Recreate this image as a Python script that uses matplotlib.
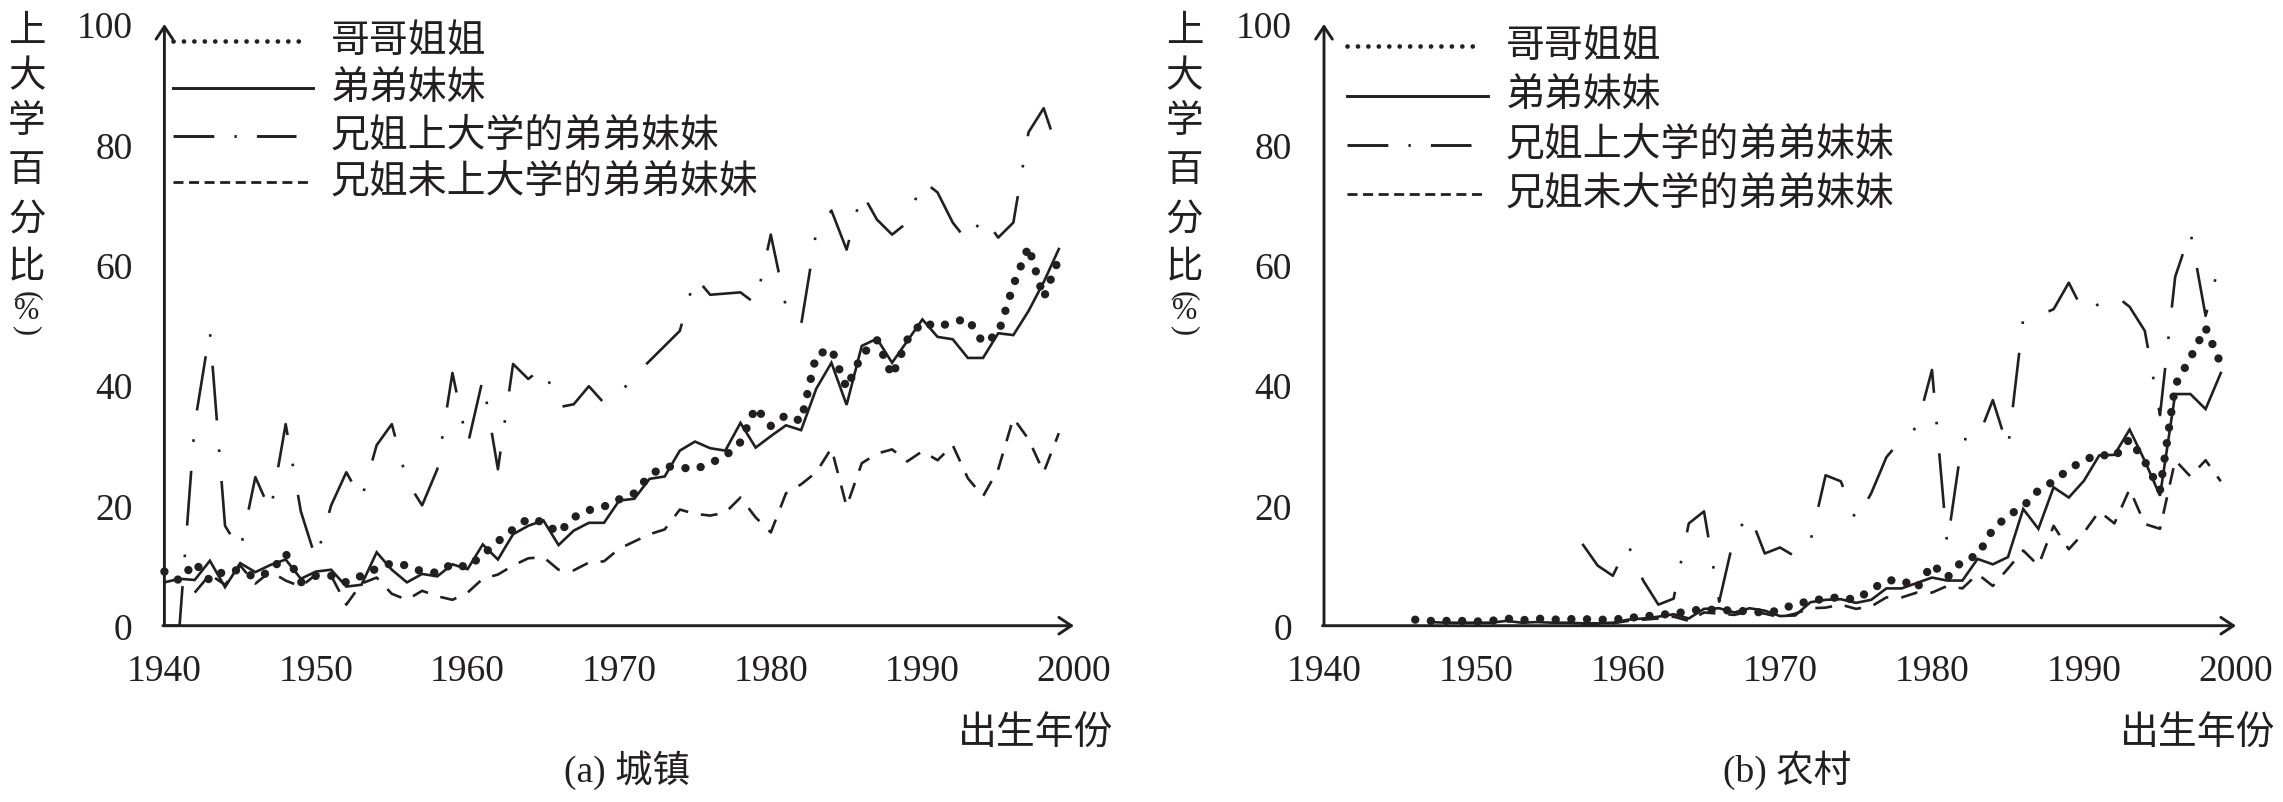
import matplotlib
matplotlib.use("Agg")
import matplotlib.pyplot as plt

plt.rcParams['font.family'] = ['Liberation Serif', 'Noto Sans CJK SC']
CJK = ['Noto Sans CJK SC', 'DejaVu Sans']
INK = '#231f20'
W, H, DPI = 2283, 803, 100

# ---------------- data: (a) urban ----------------
urban_elder_years = list(range(1940, 2000))
urban_elder = [9.0, 7.5, 10.5, 7.5, 9.2, 9.2, 8.0, 9.0, 12.0, 7.2,
               8.3, 8.3, 7.2, 8.3, 9.5, 10.4, 10.0, 9.0, 8.8, 10.3,
               9.7, 11.8, 14.0, 16.0, 17.8, 17.2, 15.4, 18.0, 19.2, 19.8,
               21.0, 22.0, 25.0, 26.5, 26.3, 26.0, 27.0, 28.2, 30.5, 36.3,
               33.2, 35.0, 34.0, 45.0, 46.0, 39.5, 45.0, 47.5, 41.5, 47.5,
               50.5, 49.6, 50.5, 51.0, 47.0, 48.5, 56.6, 63.0, 54.5, 61.0]
urban_younger_years = list(range(1940, 2000))
urban_younger = [7.2, 7.8, 7.6, 10.8, 6.4, 10.4, 8.9, 10.1, 11.0, 7.8,
                 9.0, 9.3, 6.5, 6.8, 12.2, 9.3, 7.2, 8.6, 8.2, 10.2,
                 9.4, 13.5, 11.0, 15.2, 16.6, 17.5, 13.4, 15.8, 17.1, 17.1,
                 20.8, 21.1, 24.4, 24.8, 29.1, 30.6, 29.5, 29.1, 33.7, 29.6,
                 31.5, 33.3, 32.5, 39.4, 43.7, 36.7, 46.5, 47.7, 43.7, 47.3,
                 50.9, 48.0, 47.6, 44.5, 44.5, 48.6, 48.3, 52.3, 57.1, 62.6]
urban_coll_years = list(range(1940, 2000))
urban_coll = [0.0, 0.0, 33.5, 49.0, 16.6, 12.5, 24.7, 19.0, 33.5, 19.0,
              11.0, 20.0, 25.5, 21.0, 30.0, 33.5, 24.0, 20.0, 26.0, 42.0,
              30.0, 41.0, 26.0, 43.5, 41.0, 43.0, 36.3, 36.8, 39.8, 37.0,
              38.5, 41.5, 44.0, 46.5, 49.0, 58.0, 55.0, 55.2, 55.4, 53.5,
              65.0, 53.0, 50.0, 65.5, 69.0, 62.5, 72.0, 67.5, 65.0, 67.0,
              74.0, 72.0, 67.0, 63.8, 68.0, 64.5, 67.0, 82.0, 86.0, 78.5]
urban_nocoll_years = list(range(1942, 2000))
urban_nocoll = [5.5, 8.5, 6.8, 10.0, 7.0, 9.0, 7.5, 6.5,
                8.5, 8.3, 3.5, 7.0, 8.0, 5.3, 4.3, 5.8, 4.9, 4.3,
                5.5, 7.8, 8.5, 10.0, 11.2, 11.4, 9.3, 9.2, 10.5, 10.7,
                12.8, 14.0, 15.2, 16.0, 19.3, 18.6, 18.3, 18.8, 21.3, 18.0,
                15.5, 22.0, 23.5, 25.5, 29.5, 19.8, 27.0, 28.6, 29.3, 27.3,
                29.0, 27.5, 30.0, 24.5, 21.5, 26.0, 34.5, 31.0, 25.5, 32.0]

# ---------------- data: (b) rural ----------------
rural_elder_years = list(range(1946, 2000))
rural_elder = [1.0, 0.8, 0.8, 0.8,
               0.7, 0.8, 1.2, 0.9, 1.2, 1.0, 1.1, 1.1, 1.0, 1.0,
               1.3, 1.5, 1.8, 2.0, 2.4, 2.8, 2.5, 2.6, 2.3, 2.2,
               2.5, 3.7, 4.0, 4.6, 4.7, 4.3, 6.0, 7.5, 7.6, 6.2,
               10.2, 8.0, 10.8, 11.7, 16.0, 18.3, 19.8, 22.5, 24.0, 26.0,
               27.5, 28.5, 28.0, 31.0, 27.3, 22.5, 40.0, 44.5, 49.5, 43.5]
rural_younger_years = list(range(1947, 2000))
rural_younger = [0.6, 0.5, 0.5,
                 0.5, 0.5, 0.8, 0.5, 0.6, 0.5, 0.5, 0.4, 0.4, 0.5,
                 1.0, 1.2, 1.5, 1.9, 1.2, 2.8, 2.9, 2.2, 2.9, 2.5,
                 1.6, 1.7, 3.9, 4.3, 4.4, 3.8, 4.3, 6.2, 6.2, 7.1,
                 8.0, 7.5, 7.5, 11.1, 10.2, 11.4, 19.4, 16.1, 23.0, 21.3,
                 24.1, 28.3, 28.4, 32.6, 27.4, 21.6, 38.5, 38.5, 36.0, 42.0]
rural_coll_years = list(range(1957, 2000))
rural_coll = [13.6, 10.0, 8.3,
              13.5, 7.5, 3.5, 4.5, 17.0, 19.0, 4.0, 15.0, 18.5, 12.0,
              13.0, 11.5, 14.0, 25.0, 24.0, 17.5, 22.0, 28.0, 31.0, 33.0,
              42.5, 13.5, 31.0, 31.0, 37.5, 29.5, 51.0, 51.5, 52.6, 57.0,
              52.0, 53.5, 55.0, 53.0, 49.0, 35.0, 58.0, 65.5, 51.5, 61.0]
rural_nocoll_years = list(range(1957, 2000))
rural_nocoll = [0.3, 0.3, 0.4,
                0.8, 1.0, 1.2, 1.5, 0.8, 2.2, 2.0, 1.8, 2.4, 2.0,
                1.4, 2.0, 2.9, 3.0, 3.5, 2.8, 3.2, 4.7, 4.7, 5.5,
                5.5, 6.6, 6.2, 8.6, 6.6, 9.5, 12.5, 10.0, 16.6, 12.7,
                15.5, 19.0, 17.0, 22.7, 16.9, 16.1, 27.5, 24.8, 27.5, 24.0]

x_ticks = [1940, 1950, 1960, 1970, 1980, 1990, 2000]
y_ticks = [0, 20, 40, 60, 80, 100]
legend_a = ['哥哥姐姐', '弟弟妹妹', '兄姐上大学的弟弟妹妹', '兄姐未上大学的弟弟妹妹']
legend_b = ['哥哥姐姐', '弟弟妹妹', '兄姐上大学的弟弟妹妹', '兄姐未大学的弟弟妹妹']
ylabel_chars = ['上', '大', '学', '百', '分', '比']
xlabel = '出生年份'
captions = ['(a) 城镇', '(b) 农村']

# ---------------- styles ----------------
LW = 1.9
DOT = dict(color=INK, lw=6.0, linestyle=(0, (0.01, 1.87)), dash_capstyle='round')
SOLID = dict(color=INK, lw=LW, linestyle='-', solid_joinstyle='miter')
DASHDOT = dict(color=INK, lw=LW, linestyle=(0, (20.8, 11.0, 1.0, 11.0)), dash_capstyle='butt')
DASHED = dict(color=INK, lw=LW, linestyle=(0, (6.4, 4.9)), dash_capstyle='butt')

L_DOT = dict(color=INK, lw=3.4, linestyle=(0, (0.01, 2.2)), dash_capstyle='round')
L_SOLID = dict(color=INK, lw=2.1, linestyle='-')
L_DASHDOT = dict(color=INK, lw=2.1, linestyle=(0, (14.0, 6.9, 0.8, 6.9)), dash_capstyle='butt')
L_DASHED = dict(color=INK, lw=2.0, linestyle=(0, (3.6, 2.0)), dash_capstyle='butt')

fig = plt.figure(figsize=(W / DPI, H / DPI), dpi=DPI)


def fx(p):
    return p / W


def fy(p):
    return 1 - p / H


def panel(left_px, right_px, data, labels, leg_rows, leg_x0, leg_x1s, leg_tx,
          ylab_x_px, caption, cap_x_px):
    bottom_px, top_px = 626.7, 25.0
    ax = fig.add_axes([fx(left_px), fy(bottom_px), fx(right_px - left_px),
                       (bottom_px - top_px) / H])
    ax.set_xlim(1940, 2000)
    ax.set_ylim(0, 100)
    for s in ax.spines.values():
        s.set_visible(False)
    ax.set_xticks(x_ticks)
    ax.set_yticks(y_ticks)
    ax.set_xticks(x_ticks[1:-1], minor=True)
    ax.set_yticks(y_ticks[1:-1], minor=True)
    ax.tick_params(which='major', length=0, labelsize=27, colors=INK)
    ax.tick_params(axis='x', which='major', pad=20)
    ax.tick_params(axis='y', which='major', pad=23)
    ax.tick_params(which='minor', direction='in', length=9.5, width=2.0, color=INK)
    ax.patch.set_alpha(0)

    arrow = dict(arrowstyle='->,head_length=0.45,head_width=0.3', lw=2.1,
                 color=INK, shrinkA=0, shrinkB=0, mutation_scale=20)
    ax.annotate('', xy=(1940, 100), xytext=(1940, 0), arrowprops=arrow,
                annotation_clip=False)
    ax.annotate('', xy=(2000, 0), xytext=(1939.9, 0), arrowprops=arrow,
                annotation_clip=False)

    (ey, ev), (yy, yv), (cy, cv), (ny, nv) = data
    ax.plot(ny, nv, **DASHED, clip_on=False)
    ax.plot(cy, cv, **DASHDOT, clip_on=False)
    ax.plot(yy, yv, **SOLID, clip_on=False)
    ax.plot(ey, ev, **DOT, clip_on=False)

    styles = [L_DOT, L_SOLID, L_DASHDOT, L_DASHED]
    for st, lab, yrow, x1 in zip(styles, labels, leg_rows, leg_x1s):
        ax.plot([leg_x0, x1], [yrow, yrow], **st, clip_on=False)
        ax.text(leg_tx, yrow + 0.2, lab, family=CJK, fontsize=28, color=INK,
                ha='left', va='center')

    # vertical y label
    ys = [31.7, 76.7, 121.7, 170.7, 219.3, 268.3]
    for ch, yp in zip(ylabel_chars, ys):
        fig.text(fx(ylab_x_px), fy(yp), ch, family=CJK, fontsize=27, color=INK,
                 ha='center', va='center')
    fig.text(fx(ylab_x_px), fy(296), '(', fontsize=22, color=INK, rotation=-90,
             ha='center', va='center')
    fig.text(fx(ylab_x_px), fy(312), '%', fontsize=22, color=INK,
             ha='center', va='center')
    fig.text(fx(ylab_x_px), fy(330), ')', fontsize=22, color=INK, rotation=-90,
             ha='center', va='center')

    fig.text(fx(right_px + 39), fy(733), xlabel, family=CJK, fontsize=28,
             color=INK, ha='right', va='center')
    fig.text(fx(cap_x_px), fy(770), caption, fontsize=27, color=INK,
             ha='center', va='center')
    return ax


panel(164.4, 1074.0,
      [(urban_elder_years, urban_elder), (urban_younger_years, urban_younger),
       (urban_coll_years, urban_coll), (urban_nocoll_years, urban_nocoll)],
      legend_a, [97.1, 89.3, 81.4, 73.7], 1940.6,
      [1949.45, 1949.8, 1948.7, 1949.8], 1950.95, 26.8, captions[0], 627)

panel(1324.0, 2236.0,
      [(rural_elder_years, rural_elder), (rural_younger_years, rural_younger),
       (rural_coll_years, rural_coll), (rural_nocoll_years, rural_nocoll)],
      legend_b, [96.4, 88.1, 79.9, 71.7], 1941.5,
      [1950.4, 1950.8, 1949.65, 1950.4], 1951.95, 1184.4, captions[1], 1787)

fig.savefig('out.png', dpi=DPI)
